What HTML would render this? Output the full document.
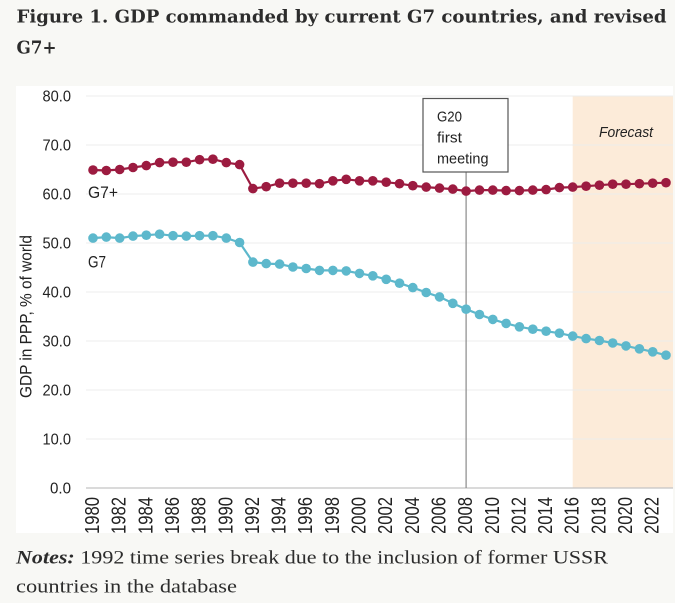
<!DOCTYPE html>
<html><head><meta charset="utf-8"><style>
html,body{margin:0;padding:0;background:#f8f8f5;}
svg{display:block;}
</style></head><body>
<svg width="675" height="603" viewBox="0 0 675 603" xmlns="http://www.w3.org/2000/svg">
<defs>
<clipPath id="cb"><rect x="16" y="86" width="657" height="447"/></clipPath>
<marker id="mr" markerUnits="userSpaceOnUse" markerWidth="12" markerHeight="12" refX="6" refY="6"><circle cx="6" cy="6" r="4.8" fill="#9c1b40"/></marker>
<marker id="mb" markerUnits="userSpaceOnUse" markerWidth="12" markerHeight="12" refX="6" refY="6"><circle cx="6" cy="6" r="4.8" fill="#5db8cc"/></marker>
</defs>
<rect width="675" height="603" fill="#f8f8f5"/>
<!-- title -->
<text x="16.5" y="22.7" font-family="'DejaVu Serif','Liberation Serif',serif" font-weight="bold" font-size="18" fill="#2c2c2c" textLength="650" lengthAdjust="spacingAndGlyphs">Figure 1. GDP commanded by current G7 countries, and revised</text>
<text x="16.5" y="53.3" font-family="'DejaVu Serif','Liberation Serif',serif" font-weight="bold" font-size="18" fill="#2c2c2c" textLength="40" lengthAdjust="spacingAndGlyphs">G7+</text>

<!-- chart box -->
<rect x="16" y="86" width="657" height="447" fill="#ffffff"/>
<g clip-path="url(#cb)">
<rect x="572.7" y="96" width="100.3" height="392" fill="#fcebd9"/>
<g stroke="#ececec" stroke-width="1">
<line x1="86" x2="673" y1="96" y2="96"/>
<line x1="86" x2="673" y1="145" y2="145"/>
<line x1="86" x2="673" y1="194" y2="194"/>
<line x1="86" x2="673" y1="243" y2="243"/>
<line x1="86" x2="673" y1="292" y2="292"/>
<line x1="86" x2="673" y1="341" y2="341"/>
<line x1="86" x2="673" y1="390" y2="390"/>
<line x1="86" x2="673" y1="439" y2="439"/>
</g>
<line x1="86" x2="673" y1="488" y2="488" stroke="#c4c4c4" stroke-width="1.2"/>
<line x1="466.1" x2="466.1" y1="172" y2="488" stroke="#8a8a8a" stroke-width="1.2"/>
<rect x="423" y="98.5" width="85" height="73.5" fill="#ffffff" stroke="#555" stroke-width="1.2"/>
<g font-family="'Liberation Sans',sans-serif" font-size="15" fill="#222">
<text x="437" y="121.7" textLength="25" lengthAdjust="spacingAndGlyphs">G20</text>
<text x="437" y="142.7" textLength="25" lengthAdjust="spacingAndGlyphs">first</text>
<text x="437" y="163.3" textLength="51.5" lengthAdjust="spacingAndGlyphs">meeting</text>
<text x="599" y="137" font-style="italic" textLength="54" lengthAdjust="spacingAndGlyphs">Forecast</text>
</g>

<!-- series -->
<polyline fill="none" stroke="#9c1b40" stroke-width="2.2" marker-start="url(#mr)" marker-mid="url(#mr)" marker-end="url(#mr)" points="93.0,170.0 106.3,170.5 119.7,169.5 133.0,167.5 146.3,165.6 159.6,162.6 173.0,162.2 186.3,162.2 199.6,159.7 212.9,159.2 226.3,162.6 239.6,164.6 252.9,188.6 266.2,186.7 279.6,183.2 292.9,183.2 306.2,183.2 319.5,183.7 332.9,180.8 346.2,179.3 359.5,180.8 372.8,180.8 386.2,182.2 399.5,183.7 412.8,185.7 426.2,187.1 439.5,188.1 452.8,189.1 466.1,191.1 479.5,190.1 492.8,190.1 506.1,190.6 519.4,190.6 532.8,190.1 546.1,189.6 559.4,187.6 572.7,187.1 586.1,186.2 599.4,185.2 612.7,184.2 626.0,184.2 639.4,183.7 652.7,183.2 666.0,182.7"/>
<polyline fill="none" stroke="#5db8cc" stroke-width="2.2" marker-start="url(#mb)" marker-mid="url(#mb)" marker-end="url(#mb)" points="93.0,238.1 106.3,237.1 119.7,238.1 133.0,236.1 146.3,235.2 159.6,234.2 173.0,235.7 186.3,236.1 199.6,235.7 212.9,235.7 226.3,238.1 239.6,242.5 252.9,262.1 266.2,263.6 279.6,264.1 292.9,267.0 306.2,268.5 319.5,270.4 332.9,270.4 346.2,270.9 359.5,273.4 372.8,275.8 386.2,279.3 399.5,283.2 412.8,287.6 426.2,292.5 439.5,296.9 452.8,303.3 466.1,309.2 479.5,314.5 492.8,319.4 506.1,323.4 519.4,326.8 532.8,329.2 546.1,331.2 559.4,333.2 572.7,336.1 586.1,338.6 599.4,340.5 612.7,343.0 626.0,345.9 639.4,348.8 652.7,351.8 666.0,355.2"/>

<g font-family="'Liberation Sans',sans-serif" font-size="17" fill="#222">
<text x="88" y="198" textLength="30" lengthAdjust="spacingAndGlyphs">G7+</text>
<text x="88" y="267.5" textLength="18" lengthAdjust="spacingAndGlyphs">G7</text>
</g>

<!-- y tick labels -->
<g font-family="'Liberation Sans',sans-serif" font-size="15.5" fill="#222" text-anchor="end">
<text x="71" y="101.5" textLength="28.5" lengthAdjust="spacingAndGlyphs">80.0</text>
<text x="71" y="150.5" textLength="28.5" lengthAdjust="spacingAndGlyphs">70.0</text>
<text x="71" y="199.5" textLength="28.5" lengthAdjust="spacingAndGlyphs">60.0</text>
<text x="71" y="248.5" textLength="28.5" lengthAdjust="spacingAndGlyphs">50.0</text>
<text x="71" y="297.5" textLength="28.5" lengthAdjust="spacingAndGlyphs">40.0</text>
<text x="71" y="346.5" textLength="28.5" lengthAdjust="spacingAndGlyphs">30.0</text>
<text x="71" y="395.5" textLength="28.5" lengthAdjust="spacingAndGlyphs">20.0</text>
<text x="71" y="444.5" textLength="28.5" lengthAdjust="spacingAndGlyphs">10.0</text>
<text x="71" y="493.5" textLength="21" lengthAdjust="spacingAndGlyphs">0.0</text>
</g>
<text transform="translate(31.5,398) rotate(-90)" font-family="'Liberation Sans',sans-serif" font-size="17" fill="#222" textLength="163" lengthAdjust="spacingAndGlyphs">GDP in PPP, % of world</text>

<!-- x tick labels -->
<g font-family="'Liberation Sans',sans-serif" font-size="20" fill="#222" text-anchor="end">
<text transform="translate(99.0,497) rotate(-90)" textLength="37" lengthAdjust="spacingAndGlyphs">1980</text>
<text transform="translate(125.7,497) rotate(-90)" textLength="37" lengthAdjust="spacingAndGlyphs">1982</text>
<text transform="translate(152.3,497) rotate(-90)" textLength="37" lengthAdjust="spacingAndGlyphs">1984</text>
<text transform="translate(179.0,497) rotate(-90)" textLength="37" lengthAdjust="spacingAndGlyphs">1986</text>
<text transform="translate(205.6,497) rotate(-90)" textLength="37" lengthAdjust="spacingAndGlyphs">1988</text>
<text transform="translate(232.3,497) rotate(-90)" textLength="37" lengthAdjust="spacingAndGlyphs">1990</text>
<text transform="translate(258.9,497) rotate(-90)" textLength="37" lengthAdjust="spacingAndGlyphs">1992</text>
<text transform="translate(285.6,497) rotate(-90)" textLength="37" lengthAdjust="spacingAndGlyphs">1994</text>
<text transform="translate(312.2,497) rotate(-90)" textLength="37" lengthAdjust="spacingAndGlyphs">1996</text>
<text transform="translate(338.9,497) rotate(-90)" textLength="37" lengthAdjust="spacingAndGlyphs">1998</text>
<text transform="translate(365.5,497) rotate(-90)" textLength="37" lengthAdjust="spacingAndGlyphs">2000</text>
<text transform="translate(392.2,497) rotate(-90)" textLength="37" lengthAdjust="spacingAndGlyphs">2002</text>
<text transform="translate(418.8,497) rotate(-90)" textLength="37" lengthAdjust="spacingAndGlyphs">2004</text>
<text transform="translate(445.5,497) rotate(-90)" textLength="37" lengthAdjust="spacingAndGlyphs">2006</text>
<text transform="translate(472.1,497) rotate(-90)" textLength="37" lengthAdjust="spacingAndGlyphs">2008</text>
<text transform="translate(498.8,497) rotate(-90)" textLength="37" lengthAdjust="spacingAndGlyphs">2010</text>
<text transform="translate(525.4,497) rotate(-90)" textLength="37" lengthAdjust="spacingAndGlyphs">2012</text>
<text transform="translate(552.1,497) rotate(-90)" textLength="37" lengthAdjust="spacingAndGlyphs">2014</text>
<text transform="translate(578.7,497) rotate(-90)" textLength="37" lengthAdjust="spacingAndGlyphs">2016</text>
<text transform="translate(605.4,497) rotate(-90)" textLength="37" lengthAdjust="spacingAndGlyphs">2018</text>
<text transform="translate(632.0,497) rotate(-90)" textLength="37" lengthAdjust="spacingAndGlyphs">2020</text>
<text transform="translate(658.7,497) rotate(-90)" textLength="37" lengthAdjust="spacingAndGlyphs">2022</text>
</g>
</g>

<!-- notes -->
<text x="16" y="563.3" font-family="'Liberation Serif',serif" font-size="18.5" fill="#2c2c2c" textLength="592" lengthAdjust="spacingAndGlyphs"><tspan font-weight="bold" font-style="italic">Notes:</tspan> 1992 time series break due to the inclusion of former USSR</text>
<text x="16" y="592.7" font-family="'Liberation Serif',serif" font-size="18.5" fill="#2c2c2c" textLength="221" lengthAdjust="spacingAndGlyphs">countries in the database</text>
</svg>
</body></html>
